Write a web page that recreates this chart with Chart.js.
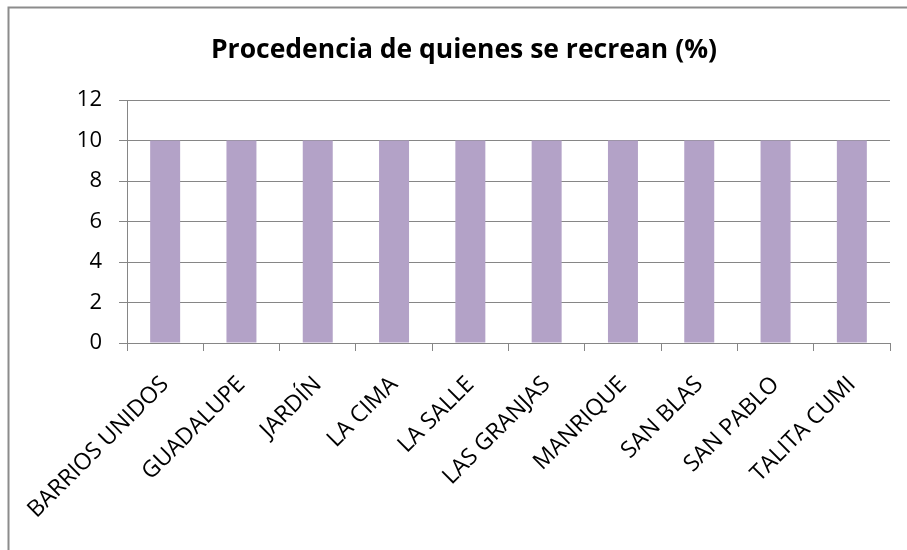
<!DOCTYPE html>
<html>
<head>
<meta charset="utf-8">
<script src="https://cdn.jsdelivr.net/npm/chart.js@4"></script>
<style>
  html, body { margin: 0; padding: 0; background: #fff; }
  #wrap { position: relative; width: 907px; height: 550px; overflow: hidden; }
  #title {
    position: absolute; left: 0; top: 35px; width: 928px;
    text-align: center; font-family: 'Open Sans', sans-serif; font-weight: bold;
    font-size: 26.5px; line-height: 26.5px; color: #000; white-space: nowrap;
  }
</style>
</head>
<body>
<div id="wrap"><canvas id="c" width="907" height="550"></canvas><div id="title"></div></div>
<script>
const categories = ["BARRIOS UNIDOS", "GUADALUPE", "JARDÍN", "LA CIMA", "LA SALLE", "LAS GRANJAS", "MANRIQUE", "SAN BLAS", "SAN PABLO", "TALITA CUMI"];
const values = [10, 10, 10, 10, 10, 10, 10, 10, 10, 10];
const yTicks = [0, 2, 4, 6, 8, 10, 12];
const titleText = "Procedencia de quienes se recrean (%)";

document.getElementById('title').textContent = titleText;

const frame = {
  id: 'frame',
  beforeDraw(chart) {
    const ctx = chart.ctx;
    ctx.save();
    ctx.fillStyle = '#fff';
    ctx.fillRect(0, 0, chart.width, chart.height);
    ctx.strokeStyle = '#8c8c8c';
    ctx.lineWidth = 2;
    ctx.beginPath();
    ctx.moveTo(8.5, 550);
    ctx.lineTo(8.5, 7.5);
    ctx.lineTo(907, 7.5);
    ctx.stroke();
    ctx.restore();
  }
};

new Chart(document.getElementById('c'), {
  type: 'bar',
  data: {
    labels: categories,
    datasets: [{
      data: values,
      backgroundColor: '#B3A2C7',
      borderWidth: 0,
      barPercentage: 0.393,
      categoryPercentage: 1.0
    }]
  },
  options: {
    responsive: false,
    animation: false,
    events: [],
    layout: { padding: { left: 10, right: 17, top: 100, bottom: 0 } },
    plugins: {
      legend: { display: false },
      tooltip: { enabled: false },
      title: { display: false }
    },
    scales: {
      x: {
        grid: { offset: true, drawOnChartArea: false, color: '#868686', tickLength: 8, tickColor: '#868686' },
        border: { color: '#868686', width: 1 },
        ticks: {
          color: '#000',
          font: { family: 'Open Sans', size: 23 },
          maxRotation: 45, minRotation: 45,
          autoSkip: false,
          padding: 20
        },
        afterFit(scale) { scale.height = 207; }
      },
      y: {
        min: 0, max: 12,
        afterBuildTicks(scale) { scale.ticks = yTicks.map(v => ({ value: v })); },
        grid: { color: '#868686', tickLength: 8, tickColor: '#868686' },
        border: { color: '#868686', width: 1 },
        ticks: {
          color: '#000',
          font: { family: 'Open Sans', size: 22 },
          padding: 17
        },
        afterFit(scale) { scale.width = 117; }
      }
    }
  },
  plugins: [frame]
});
</script>
</body>
</html>
